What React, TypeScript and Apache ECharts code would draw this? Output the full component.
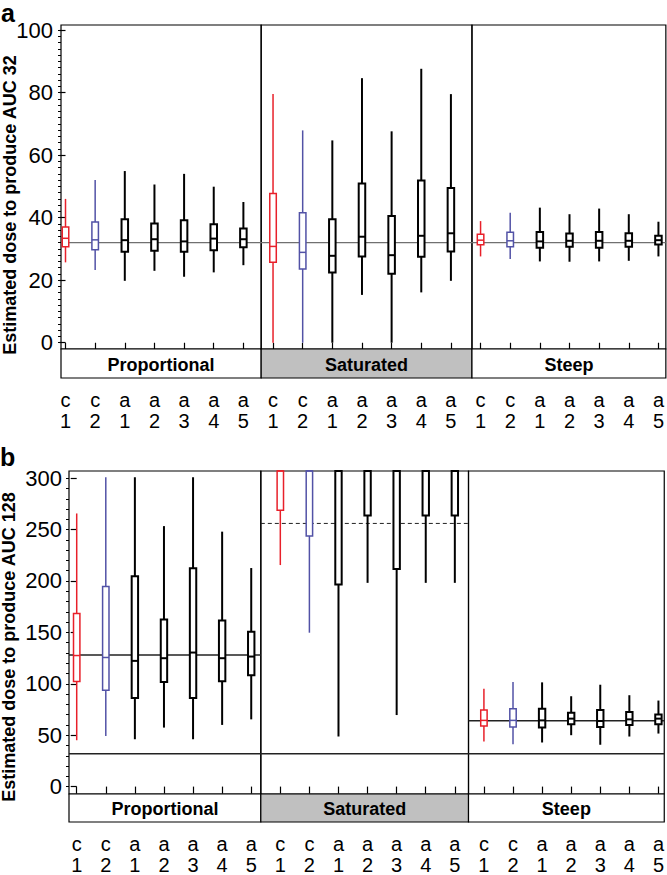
import React, { useEffect, useRef } from "react";
import * as echarts from "echarts";

// ---- categories & labels ----
const categoryLabels = [
  "c\n1", "c\n2", "a\n1", "a\n2", "a\n3", "a\n4", "a\n5",
  "c\n1", "c\n2", "a\n1", "a\n2", "a\n3", "a\n4", "a\n5",
  "c\n1", "c\n2", "a\n1", "a\n2", "a\n3", "a\n4", "a\n5",
];
const categoryIndex = categoryLabels.map((_, i) => i);
// 0 = red (c1), 1 = blue (c2), 2 = black (a1..a5)
const colorGroup = [0, 1, 2, 2, 2, 2, 2, 0, 1, 2, 2, 2, 2, 2, 0, 1, 2, 2, 2, 2, 2];
const groupColors = ["#e8202a", "#5252a6", "#000000"];

const panelNames = ["Proportional", "Saturated", "Steep"];
const panelFills = ["#ffffff", "#c0c0c0", "#ffffff"];

// ---- panel a: [low, q1, median, q3, high] ----
const aProportional = [
  [25.7, 30.7, 33.4, 37.0, 46.0],
  [23.3, 29.7, 32.9, 38.6, 52.0],
  [19.8, 29.1, 32.8, 39.5, 54.9],
  [23.0, 29.4, 33.1, 38.1, 50.6],
  [21.1, 29.1, 32.4, 39.2, 54.0],
  [22.5, 29.6, 33.3, 37.9, 49.9],
  [24.8, 30.5, 33.1, 36.5, 45.0],
];
const aSaturated = [
  [0, 25.7, 30.8, 47.7, 79.5],
  [0, 23.6, 28.9, 41.6, 67.9],
  [0, 22.5, 27.8, 39.5, 64.7],
  [15.3, 27.6, 33.9, 50.9, 84.6],
  [0, 22.1, 28.0, 40.5, 67.6],
  [16.1, 27.5, 34.2, 51.9, 87.6],
  [19.8, 29.2, 35.0, 49.5, 79.5],
];
const aSteep = [
  [27.6, 31.3, 32.8, 34.7, 38.9],
  [26.8, 30.7, 32.6, 35.3, 41.6],
  [26.0, 30.4, 32.4, 35.4, 43.2],
  [25.9, 30.7, 32.6, 34.9, 41.1],
  [26.0, 30.4, 32.6, 35.4, 42.9],
  [26.2, 30.7, 32.6, 35.0, 41.1],
  [27.6, 31.4, 32.8, 34.2, 38.7],
];

// ---- panel b: [low, q1, median, q3, high] ----
const bProportional = [
  [45.1, 102.3, 127.5, 168.3, 265.7],
  [49.3, 93.7, 125.6, 194.6, 301],
  [46.1, 86.3, 122.3, 204.6, 301],
  [57.4, 101.7, 124.9, 162.5, 253.4],
  [46.1, 86.3, 130.4, 212.3, 301],
  [60.0, 102.4, 124.9, 161.5, 248.0],
  [65.4, 108.2, 126.5, 150.6, 212.6],
];
const bSaturated = [
  [215.5, 268.9, 330, 420, 650],
  [149.7, 243.8, 320, 430, 700],
  [48.7, 196.5, 320, 460, 800],
  [198.2, 263.7, 330, 420, 600],
  [69.6, 211.7, 320, 450, 780],
  [198.2, 263.7, 330, 420, 600],
  [198.2, 263.7, 330, 420, 600],
];
const bSteep = [
  [43.9, 59.0, 64.4, 74.4, 95.3],
  [41.3, 58.0, 64.4, 75.7, 101.7],
  [42.9, 57.4, 64.4, 75.7, 101.4],
  [50.0, 60.6, 66.1, 71.8, 87.9],
  [40.7, 58.0, 63.8, 74.4, 99.1],
  [48.7, 60.0, 65.4, 72.5, 88.9],
  [51.6, 60.6, 66.1, 70.2, 83.7],
];

// ---- reference lines: [y, panel (-1 = all), dashed] ----
const refLinesA = [[32, -1, 0]];
const refLinesB = [
  [32, -1, 0],
  [128, 0, 0],
  [256, 1, 1],
  [64, 2, 0],
];

// ---- ticks ----
const majorTicksA = [0, 20, 40, 60, 80, 100];
const majorTicksB = [0, 50, 100, 150, 200, 250, 300];
const minorStepA = 2;
const minorStepB = 10;

// ---- axis ranges ----
const xRangeA = [-0.152, 20.25];
const dividersA = [6.6, 13.71];
const yRangeA = [-2.0, 101.6];
const xRangeB = [-0.265, 20.2];
const dividersB = [6.33, 13.47];
const yRangeB = [-7.2, 307];

const FONT = '"Liberation Sans", Arial, sans-serif';

function buildBoxData(groups: number[][][]) {
  const out: number[][] = [];
  let i = 0;
  groups.forEach((g) =>
    g.forEach((r) => {
      out.push([i, r[0], r[1], r[2], r[3], r[4], colorGroup[i]]);
      i++;
    })
  );
  return out;
}

function minorTicks(max: number, step: number) {
  const v: number[] = [];
  for (let t = 0; t <= max + 1e-9; t += step) v.push(+t.toFixed(4));
  return v;
}

function boxRender(yMax: number, yMin: number) {
  return (params: any, api: any) => {
    const x = api.value(0);
    const cl = (v: number) => Math.max(yMin, Math.min(yMax, v));
    const low = api.coord([x, cl(api.value(1))]);
    const q1 = api.coord([x, cl(api.value(2))]);
    const med = api.coord([x, cl(api.value(3))]);
    const q3 = api.coord([x, cl(api.value(4))]);
    const high = api.coord([x, cl(api.value(5))]);
    const g = api.value(6);
    const color = groupColors[g];
    const lw = g === 2 ? 2 : 1.5;
    const w = api.size([1, 0])[0] * 0.22;
    return {
      type: "group",
      children: [
        {
          type: "line",
          shape: { x1: low[0], y1: low[1], x2: high[0], y2: high[1] },
          style: { stroke: color, lineWidth: lw },
        },
        {
          type: "rect",
          shape: { x: q3[0] - w / 2, y: q3[1], width: w, height: q1[1] - q3[1] },
          style: { fill: "#ffffff", stroke: color, lineWidth: lw },
        },
        {
          type: "line",
          shape: { x1: med[0] - w / 2, y1: med[1], x2: med[0] + w / 2, y2: med[1] },
          style: { stroke: color, lineWidth: lw },
        },
      ],
    };
  };
}

function frameRender(yMax: number, yMin: number, stripH: number) {
  return (params: any, api: any) => {
    const x0 = api.value(0);
    const x1 = api.value(1);
    const idx = api.value(2);
    const p0 = api.coord([x0, yMax]);
    const p1 = api.coord([x1, yMin]);
    const w = p1[0] - p0[0];
    return {
      type: "group",
      children: [
        {
          type: "rect",
          shape: { x: p0[0], y: p0[1], width: w, height: p1[1] - p0[1] },
          style: { fill: "none", stroke: "#000", lineWidth: 1.2 },
        },
        {
          type: "rect",
          shape: { x: p0[0], y: p1[1], width: w, height: stripH },
          style: { fill: panelFills[idx], stroke: "#000", lineWidth: 1.2 },
        },
        {
          type: "text",
          style: {
            text: panelNames[idx],
            x: p0[0] + w / 2,
            y: p1[1] + stripH / 2 + 1,
            font: `bold 18px ${FONT}`,
            fill: "#000",
            align: "center",
            verticalAlign: "middle",
            textAlign: "center",
            textVerticalAlign: "middle",
          },
        },
      ],
    };
  };
}

function refRender() {
  return (params: any, api: any) => {
    const x0 = api.value(0);
    const x1 = api.value(1);
    const y = api.value(2);
    const dashed = api.value(3);
    const color = api.value(4);
    const a = api.coord([x0, y]);
    const b = api.coord([x1, y]);
    return {
      type: "line",
      shape: { x1: a[0], y1: a[1], x2: b[0], y2: b[1] },
      style: {
        stroke: color === 0 ? "#707070" : "#222222",
        lineWidth: dashed ? 1 : 1.4,
        lineDash: dashed ? [4, 3] : null,
      },
    };
  };
}

function panelBounds(xr: number[], div: number[]) {
  const b = [xr[0], div[0], div[1], xr[1]];
  return [0, 1, 2].map((i) => [b[i], b[i + 1], i]);
}

function refData(lines: number[][], xr: number[], div: number[], colorCode: number) {
  const b = [xr[0], div[0], div[1], xr[1]];
  return lines.map((l) => {
    const p = l[1];
    const x0 = p < 0 ? xr[0] : b[p];
    const x1 = p < 0 ? xr[1] : b[p + 1];
    return [x0, x1, l[0], l[2], colorCode];
  });
}

export default function App() {
  const ref = useRef<HTMLDivElement>(null);
  useEffect(() => {
    document.body.style.margin = "0";
    const chart = echarts.init(ref.current!, null, { renderer: "svg" });

    const xAxisCommon = (idx: number, xr: number[], stripH: number, margin: number) => ({
      type: "value",
      gridIndex: idx,
      min: xr[0],
      max: xr[1],
      position: "bottom",
      offset: stripH,
      axisLine: { show: false },
      splitLine: { show: false },
      axisTick: {
        show: true,
        customValues: categoryIndex,
        length: 7,
        lineStyle: { color: "#000", width: 1.2 },
      },
      axisLabel: {
        show: true,
        customValues: categoryIndex,
        formatter: (v: number) => categoryLabels[Math.round(v)] ?? "",
        fontSize: 20,
        lineHeight: 21,
        fontFamily: FONT,
        color: "#000",
        margin,
      },
    });

    const yMajor = (idx: number, yr: number[], ticks: number[], margin: number) => ({
      type: "value",
      gridIndex: idx,
      position: "left",
      min: yr[0],
      max: yr[1],
      axisLine: { show: false },
      splitLine: { show: false },
      axisTick: { show: true, customValues: ticks, length: 6, lineStyle: { color: "#000", width: 1.2 } },
      axisLabel: {
        show: true,
        customValues: ticks,
        fontSize: 22,
        fontFamily: FONT,
        color: "#000",
        margin,
      },
    });
    const yMinor = (idx: number, yr: number[], ticks: number[]) => ({
      type: "value",
      gridIndex: idx,
      position: "left",
      offset: 0,
      min: yr[0],
      max: yr[1],
      axisLine: { show: false },
      splitLine: { show: false },
      axisTick: { show: true, customValues: ticks, length: 3, lineStyle: { color: "#000", width: 1 } },
      axisLabel: { show: false },
    });

    const boxA = buildBoxData([aProportional, aSaturated, aSteep]);
    const boxB = buildBoxData([bProportional, bSaturated, bSteep]);

    chart.setOption({
      animation: false,
      backgroundColor: "#ffffff",
      grid: [
        { left: 61, top: 25, width: 605, height: 324 },
        { left: 69, top: 471, width: 596, height: 326 },
      ],
      xAxis: [xAxisCommon(0, xRangeA, 29, 11), xAxisCommon(1, xRangeB, 28, 11)],
      yAxis: [
        yMajor(0, yRangeA, majorTicksA, 8),
        yMinor(0, yRangeA, minorTicks(100, minorStepA)),
        yMajor(1, yRangeB, majorTicksB, 7),
        yMinor(1, yRangeB, minorTicks(300, minorStepB)),
      ],
      series: [
        {
          type: "custom",
          xAxisIndex: 0,
          yAxisIndex: 0,
          z: 1,
          renderItem: frameRender(yRangeA[1], yRangeA[0], 29),
          data: panelBounds(xRangeA, dividersA),
          silent: true,
        },
        {
          type: "custom",
          xAxisIndex: 0,
          yAxisIndex: 0,
          z: 2,
          renderItem: refRender(),
          data: refData(refLinesA, xRangeA, dividersA, 0),
          silent: true,
        },
        {
          type: "custom",
          xAxisIndex: 0,
          yAxisIndex: 0,
          z: 3,
          renderItem: boxRender(yRangeA[1], yRangeA[0]),
          data: boxA,
          silent: true,
        },
        {
          type: "custom",
          xAxisIndex: 1,
          yAxisIndex: 2,
          z: 1,
          renderItem: frameRender(yRangeB[1], yRangeB[0], 28),
          data: panelBounds(xRangeB, dividersB),
          silent: true,
        },
        {
          type: "custom",
          xAxisIndex: 1,
          yAxisIndex: 2,
          z: 2,
          renderItem: refRender(),
          data: refData(refLinesB, xRangeB, dividersB, 1),
          silent: true,
        },
        {
          type: "custom",
          xAxisIndex: 1,
          yAxisIndex: 2,
          z: 3,
          renderItem: boxRender(yRangeB[1], yRangeB[0]),
          data: boxB,
          silent: true,
        },
      ],
      graphic: [
        {
          type: "text",
          left: 1,
          top: 0,
          style: { text: "a", font: `bold 25px ${FONT}`, fill: "#000" },
        },
        {
          type: "text",
          left: 0,
          top: 444,
          style: { text: "b", font: `bold 25px ${FONT}`, fill: "#000" },
        },
        {
          type: "text",
          x: 10,
          y: 205,
          rotation: Math.PI / 2,
          style: {
            text: "Estimated dose to produce AUC 32",
            font: `bold 18px ${FONT}`,
            fill: "#000",
            align: "center",
            verticalAlign: "middle",
            textAlign: "center",
            textVerticalAlign: "middle",
          },
        },
        {
          type: "text",
          x: 9,
          y: 647,
          rotation: Math.PI / 2,
          style: {
            text: "Estimated dose to produce AUC 128",
            font: `bold 18px ${FONT}`,
            fill: "#000",
            align: "center",
            verticalAlign: "middle",
            textAlign: "center",
            textVerticalAlign: "middle",
          },
        },
      ],
    });
    return () => chart.dispose();
  }, []);
  return (
    <div
      ref={ref}
      style={{ position: "fixed", left: 0, top: 0, width: 667, height: 875, background: "#fff" }}
    />
  );
}
